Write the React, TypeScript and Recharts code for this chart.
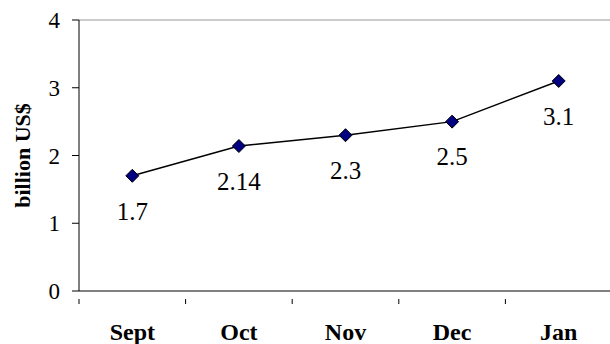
import { LineChart, Line, XAxis, YAxis, ReferenceLine, LabelList } from 'recharts'

const months = ['Sept', 'Oct', 'Nov', 'Dec', 'Jan']
const values = [1.7, 2.14, 2.3, 2.5, 3.1]
const yTicks = [0, 1, 2, 3, 4]

const data = months.map((month, i) => ({ month, value: values[i], pos: i + 0.5 }))
const xTicks = [0, 0.5, 1, 1.5, 2, 2.5, 3, 3.5, 4, 4.5, 5]

const FONT = 'Liberation Serif'

function Diamond(props: any) {
  const { cx, cy } = props
  if (cx == null || cy == null) return null
  const r = 6.5
  return (
    <path
      d={`M${cx},${cy - r} L${cx + r},${cy} L${cx},${cy + r} L${cx - r},${cy} Z`}
      fill="#000080"
      stroke="#000"
      strokeWidth={1}
    />
  )
}

function MonthTick(props: any) {
  const { x, y, payload } = props
  const v = payload.value
  if (Number.isInteger(v)) {
    return <line x1={x} y1={y} x2={x} y2={y + 5} stroke="#000" strokeWidth={1} />
  }
  return (
    <text x={x} y={y + 41} textAnchor="middle" style={{ fontFamily: FONT }} fontSize={24} fontWeight="bold" fill="#000">
      {months[Math.floor(v)]}
    </text>
  )
}

export default function App() {
  return (
    <div style={{ position: 'absolute', left: 0, top: 0, width: 610, height: 344, overflow: 'hidden', background: '#fff', fontFamily: FONT }}>
      <LineChart width={612} height={344} data={data} margin={{ top: 20, right: 0, bottom: 0, left: 0 }}>
        <XAxis
          dataKey="pos"
          type="number"
          domain={[0, 5]}
          ticks={xTicks}
          interval={0}
          tickLine={false}
          tick={<MonthTick />}
          axisLine={{ stroke: '#000', strokeWidth: 1 }}
          height={53}
        />
        <YAxis
          domain={[0, 4]}
          ticks={yTicks}
          width={79}
          tickSize={7}
          tickMargin={12}
          tick={{ fontSize: 23, fill: '#000', style: { fontFamily: FONT } }}
          tickLine={{ stroke: '#000' }}
          axisLine={{ stroke: '#000', strokeWidth: 1 }}
          label={{
            value: 'billion US$',
            angle: -90,
            position: 'insideLeft',
            offset: 22,
            style: { fontFamily: FONT, fontSize: 22, fontWeight: 'bold', fill: '#000', textAnchor: 'middle' },
          }}
        />
        <ReferenceLine y={4} stroke="#999" strokeWidth={1} />
        <Line
          dataKey="value"
          stroke="#000"
          strokeWidth={1.5}
          dot={<Diamond />}
          activeDot={false}
          isAnimationActive={false}
        >
          <LabelList
            dataKey="value"
            position="bottom"
            offset={26}
            style={{ fontFamily: FONT, fontSize: 25, fill: '#000' }}
          />
        </Line>
      </LineChart>
    </div>
  )
}
